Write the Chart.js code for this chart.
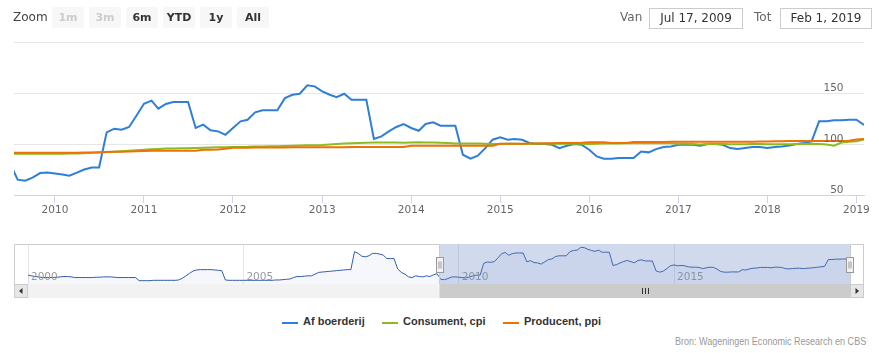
<!DOCTYPE html>
<html><head><meta charset="utf-8">
<script src="https://cdn.jsdelivr.net/npm/chart.js@4.4.1/dist/chart.umd.min.js"></script>
<style>
body{margin:0;background:#fff;width:879px;height:353px;position:relative;overflow:hidden;font-family:"DejaVu Sans",sans-serif;}
canvas{position:absolute;left:0;}
#main{top:0;}
#nav{top:230px;}
.lbl{position:absolute;font:12px "DejaVu Sans";white-space:nowrap;}
.btn{position:absolute;top:7px;height:21px;width:32px;background:#f7f7f7;border-radius:2px;font:bold 11px "DejaVu Sans";color:#333;text-align:center;line-height:21px;}
.btn.dis{color:#cccccc;}
.box{position:absolute;top:8px;height:19px;border:1px solid #cccccc;font:12px "DejaVu Sans";color:#333;text-align:center;line-height:19px;}
.leg{position:absolute;top:315px;font:bold 11px "Liberation Sans",Arial,sans-serif;color:#333;white-space:nowrap;}
.sym{position:absolute;top:322px;width:16px;height:2px;}
#credits{position:absolute;right:13px;top:335px;font:11px "Liberation Sans",sans-serif;color:#999;white-space:nowrap;transform:scaleX(0.82);transform-origin:100% 50%;}
</style></head>
<body>
<canvas id="main" width="879" height="230"></canvas>
<canvas id="nav" width="879" height="75"></canvas>

<div class="lbl" style="left:13px;top:10px;color:#444;">Zoom</div>
<div id="buttons"></div>
<div class="lbl" style="left:620px;top:10px;color:#666;">Van</div>
<div class="box" style="left:649px;width:92px;" id="fromBox"></div>
<div class="lbl" style="left:754px;top:10px;color:#666;">Tot</div>
<div class="box" style="left:780px;width:90px;" id="toBox"></div>
<div id="legend"></div>
<div id="credits">Bron: Wageningen Economic Research en CBS</div>

<script>
// ---------- DATA ----------
const seriesNames = ['Af boerderij', 'Consument, cpi', 'Producent, ppi'];
const seriesColors = ['#2f7ed8', '#8bbc21', '#ee7203'];
const mainStart = [2009, 6];      // first month of visible data (Jul 2009)
const histStart = [2000, 0];      // first month of navigator history (Jan 2000)
const rangeFrom = [2009, 6, 17];  // selected range start (Jul 17, 2009)
const rangeTo = [2019, 1, 1];     // selected range end (Feb 1, 2019)
const yearTicks = [2010, 2011, 2012, 2013, 2014, 2015, 2016, 2017, 2018, 2019];
const navYearTicks = [2000, 2005, 2010, 2015];
const yTicks = [50, 100, 150, 200];
const zoomButtons = ['1m', '3m', '6m', 'YTD', '1y', 'All'];
const disabledButtons = ['1m', '3m'];

// Af boerderij, Jul 2009 - Feb 2019 (monthly)
const afBoerderij = [
  81, 65, 64, 67, 71.5, 72,
  71, 70, 69, 72, 75, 77, 77, 111.4, 115, 114, 116.7, 127.7,
  139.5, 142.5, 134.6, 139.2, 141.2, 141.2, 141.2, 115.7, 119, 113.4, 112.4, 109,
  115.7, 122.2, 123.8, 131, 133, 133, 133, 145, 148.3, 149.3, 157.5, 156.5,
  151.6, 148.3, 146, 149.3, 143.4, 143.4, 143.4, 104.9, 107.5, 112.4, 116.7, 119.6,
  115.7, 113, 119.6, 121.2, 118, 118, 118, 89.5, 85.6, 88.5, 96, 104.2,
  106.5, 104.2, 104.9, 104.2, 101, 100, 100, 99.3, 96, 98.3, 100, 99.3,
  94.4, 87.8, 85.6, 85.6, 86.3, 86.3, 86.3, 92.7, 91.8, 95, 97, 97.6,
  99.3, 99.3, 99.3, 98.3, 100, 100, 99.3, 96, 95, 96, 97, 97,
  96, 97, 97.6, 98.6, 100, 101, 102.5, 122.2, 122.2, 123.2, 123.2, 123.8,
  123.8, 118.6
];
// Consument, cpi, Jul 2009 - Feb 2019
const consumentCpi = [
  90.5, 90.5, 90.5, 90.5, 90.5, 90.5,
  90.5, 90.5, 90.6, 90.8, 91, 91.3, 91.7, 92.1, 92.5, 93, 93.5, 93.9,
  94.3, 94.8, 95.2, 95.5, 95.7, 95.8, 95.8, 96, 96.3, 96.5, 96.7, 96.8,
  97, 97.1, 97.2, 97.5, 97.6, 97.7, 97.8, 98, 98.3, 98.6, 98.7, 98.8,
  99, 99.5, 100, 100.4, 100.8, 101, 101.2, 101.4, 101.5, 101.4, 101.5, 101.3,
  101.4, 101.6, 101.5, 101.4, 101.2, 101, 100.6, 100.5, 100.6, 100.4, 100.2, 100,
  100, 100.2, 100.2, 100.1, 100.3, 100.4, 100.3, 100.3, 100.4, 100.2, 100.3, 100.2,
  100.1, 100.3, 100.4, 100.6, 100.6, 100.7, 100.8, 100.8, 100.7, 100.7, 100.7, 100.8,
  100.3, 100.3, 100, 99.6, 100, 100, 100, 99.8, 99.7, 99.8, 99.9, 100,
  99.8, 99.8, 99.7, 99.7, 99.9, 100, 100.2, 100, 99.5, 98.4, 101.5, 102.3,
  102.6, 104.4
];
// Producent, ppi, Jul 2009 - Feb 2019
const producentPpi = [
  91.3, 91.3, 91.3, 91.3, 91.3, 91.3,
  91.3, 91.3, 91.4, 91.5, 91.6, 91.7, 91.9, 92.1, 92.3, 92.5, 92.7, 92.8,
  93.2, 93.4, 93.4, 93.4, 93.4, 93.5, 93.5, 93.5, 94.4, 94.4, 94.5, 95.4,
  96.4, 96.4, 96.4, 96.5, 96.5, 96.5, 96.6, 96.6, 96.7, 96.7, 96.7, 96.8,
  96.8, 96.8, 96.9, 96.9, 97, 97, 97, 97, 97.1, 97.1, 97.1, 97.1,
  98.3, 98.3, 98.3, 98.3, 98.3, 98.3, 98.3, 98.3, 98.3, 98.3, 98.3, 98.4,
  100.2, 100.3, 100.3, 100.3, 100.4, 100.5, 100.8, 100.8, 100.9, 101, 101, 101.2,
  101.8, 101.6, 101.6, 101, 101, 101, 102, 102, 102, 102, 102, 102.1,
  102.2, 102.2, 102.2, 102.2, 102.2, 102.2, 102.2, 102.2, 102.3, 102.3, 102.3, 102.4,
  102.5, 102.6, 102.8, 102.9, 103, 103, 103, 103, 103, 103, 103, 103.2,
  104.3, 104.9
];
// Af boerderij history for the navigator, Jan 2000 - Jun 2009
const afBoerderijHist = [
  77, 75, 73, 72, 70, 70, 70, 70, 71, 72, 73, 73,
  72, 70, 70, 70, 70, 70, 70, 71, 71, 72, 72, 72,
  71, 70, 70, 70, 70, 70, 70, 61, 61, 61, 61, 62,
  62, 62, 62, 62, 62, 62, 63, 68, 75, 82, 89, 92,
  93, 93, 93, 93, 92, 91, 90, 63, 62, 62, 62, 62,
  62, 62, 62, 62, 62, 62, 62, 62, 62, 63, 63, 64,
  65, 66, 70, 73, 73, 74, 75, 75, 80, 85, 86, 87,
  88, 89, 90, 91, 92, 93, 93, 145, 140, 132, 130, 133,
  140, 140, 138, 135, 125, 125, 125, 95, 85, 80, 72, 70,
  75, 73, 72, 75, 73, 78
];

// ---------- HELPERS ----------
const ms = (y, m, d) => Date.UTC(y, m, d || 1);
const toXY = (start, vals) => vals.map((v, i) => ({x: ms(start[0], start[1] + i, 1), y: v}));
const fromMs = ms(rangeFrom[0], rangeFrom[1], rangeFrom[2]);
const toMs = ms(rangeTo[0], rangeTo[1], rangeTo[2]);
const fmt = (t) => { const d = new Date(t); const mn = ['Jan','Feb','Mar','Apr','May','Jun','Jul','Aug','Sep','Oct','Nov','Dec']; return mn[d.getUTCMonth()] + ' ' + d.getUTCDate() + ', ' + d.getUTCFullYear(); };

// ---------- HTML bits ----------
document.getElementById('fromBox').textContent = fmt(fromMs);
document.getElementById('toBox').textContent = fmt(toMs);
const btnLeft = [52, 89, 126, 163, 200, 237];
zoomButtons.forEach((b, i) => {
  const d = document.createElement('div');
  d.className = 'btn' + (disabledButtons.includes(b) ? ' dis' : '');
  d.style.left = btnLeft[i] + 'px';
  d.textContent = b;
  document.getElementById('buttons').appendChild(d);
});
const legLeft = [282, 382, 503];
seriesNames.forEach((n, i) => {
  const s = document.createElement('div');
  s.className = 'sym'; s.style.left = legLeft[i] + 'px'; s.style.background = seriesColors[i];
  const t = document.createElement('div');
  t.className = 'leg'; t.style.left = (legLeft[i] + 21) + 'px'; t.textContent = n;
  document.getElementById('legend').appendChild(s);
  document.getElementById('legend').appendChild(t);
});

// ---------- MAIN CHART ----------
const yLabelPlugin = {
  id: 'ylabels',
  afterDraw(chart) {
    const s = chart.scales.y, ctx = chart.ctx;
    ctx.save();
    ctx.font = '10.5px "DejaVu Sans"';
    ctx.fillStyle = '#666';
    ctx.textAlign = 'right';
    ctx.textBaseline = 'alphabetic';
    yTicks.slice(0, -1).forEach(v => ctx.fillText(String(v), chart.chartArea.right - 20.5, s.getPixelForValue(v) - 2));
    ctx.restore();
  }
};
const series = [afBoerderij, consumentCpi, producentPpi];
new Chart(document.getElementById('main'), {
  type: 'line',
  data: {
    datasets: series.map((vals, i) => ({
      label: seriesNames[i], data: toXY(mainStart, vals),
      borderColor: seriesColors[i], borderWidth: 2, pointRadius: 0, tension: 0, fill: false, order: 3 - i
    }))
  },
  options: {
    responsive: false, animation: false, events: [],
    layout: {padding: {left: 14, right: 15, top: 42, bottom: 0}},
    plugins: {legend: {display: false}, tooltip: {enabled: false}},
    scales: {
      x: {
        type: 'linear', min: fromMs, max: toMs,
        afterFit: s => { s.height = 35; },
        afterBuildTicks: s => { s.ticks = yearTicks.map(y => ({value: ms(y, 0, 1)})); },
        grid: {drawOnChartArea: false, drawTicks: true, tickLength: 8, color: '#ccd6eb'},
        border: {display: true, color: '#ccd6eb'},
        ticks: {autoSkip: false, maxRotation: 0, padding: 1, color: '#666', font: {family: 'DejaVu Sans', size: 10.5},
          callback: v => String(new Date(v).getUTCFullYear())}
      },
      y: {
        position: 'right', min: yTicks[0], max: yTicks[yTicks.length - 1],
        afterFit: s => { s.width = 0; },
        afterBuildTicks: s => { s.ticks = yTicks.map(v => ({value: v})); },
        ticks: {display: false},
        grid: {color: '#e6e6e6', drawTicks: false},
        border: {display: false}
      }
    }
  },
  plugins: [yLabelPlugin]
});

// ---------- NAVIGATOR ----------
const navData = afBoerderijHist.concat(afBoerderij);
const navMin = Math.min(...navData), navMax = Math.max(...navData), navPad = (navMax - navMin) * 0.1;
const navPlugin = {
  id: 'navextras',
  afterDraw(chart) {
    const ctx = chart.ctx, a = chart.chartArea, xs = chart.scales.x;
    const xL = Math.round(xs.getPixelForValue(fromMs)) + 0.5;
    const xR = Math.round(xs.getPixelForValue(toMs)) + 0.5;
    const btn = 14, sTop = a.bottom, sBot = a.bottom + btn;
    ctx.save();
    // axis labels inside the navigator
    ctx.font = '10.5px "DejaVu Sans"';
    ctx.fillStyle = '#999';
    ctx.textAlign = 'left';
    ctx.textBaseline = 'alphabetic';
    navYearTicks.forEach(y => ctx.fillText(String(y), xs.getPixelForValue(ms(y, 0, 1)) + 3, a.bottom - 4));
    // mask
    ctx.fillStyle = 'rgba(102,133,194,0.3)';
    ctx.fillRect(xL, a.top, xR - xL, a.bottom - a.top);
    // scrollbar track
    ctx.fillStyle = '#f2f2f2';
    ctx.fillRect(a.left, sTop, a.right - a.left, btn);
    // scrollbar bar
    ctx.fillStyle = '#cccccc';
    ctx.fillRect(xL, sTop, xR - xL, btn);
    ctx.strokeStyle = '#333'; ctx.lineWidth = 1;
    const cx = Math.round((xL + xR) / 2) + 0.5;
    [-3, 0, 3].forEach(o => { ctx.beginPath(); ctx.moveTo(cx + o, sTop + 4); ctx.lineTo(cx + o, sBot - 4); ctx.stroke(); });
    // buttons
    [[a.left - btn, -1], [a.right, 1]].forEach(([bx, dir]) => {
      ctx.fillStyle = '#e6e6e6';
      ctx.fillRect(bx, sTop, btn, btn);
      ctx.strokeStyle = '#cccccc';
      ctx.strokeRect(bx + 0.5, sTop + 0.5, btn - 1, btn - 1);
      ctx.fillStyle = '#333';
      const mx = bx + btn / 2, my = sTop + btn / 2;
      ctx.beginPath();
      ctx.moveTo(mx + 2 * dir, my); ctx.lineTo(mx - 1.5 * dir, my - 3); ctx.lineTo(mx - 1.5 * dir, my + 3); ctx.closePath(); ctx.fill();
    });
    // outline
    ctx.strokeStyle = '#cccccc'; ctx.lineWidth = 1;
    ctx.beginPath();
    ctx.moveTo(a.left - btn + 0.5, sBot);
    ctx.lineTo(a.left - btn + 0.5, a.top + 0.5);
    ctx.lineTo(xL, a.top + 0.5);
    ctx.lineTo(xL, a.bottom);
    ctx.moveTo(xR, a.bottom);
    ctx.lineTo(xR, a.top + 0.5);
    ctx.lineTo(a.right + btn - 0.5, a.top + 0.5);
    ctx.lineTo(a.right + btn - 0.5, sBot);
    ctx.stroke();
    // handles
    const hy = Math.round((a.top + a.bottom) / 2 - 7.5) + 0.5;
    [xL, xR - 1].forEach(hx => {
      const l = Math.round(hx - 4) + 0.5;
      ctx.fillStyle = '#f2f2f2'; ctx.strokeStyle = '#999999';
      ctx.fillRect(l, hy, 7, 15); ctx.strokeRect(l, hy, 7, 15);
      ctx.beginPath();
      ctx.moveTo(l + 2.5, hy + 4); ctx.lineTo(l + 2.5, hy + 11);
      ctx.moveTo(l + 4.5, hy + 4); ctx.lineTo(l + 4.5, hy + 11);
      ctx.stroke();
    });
    ctx.restore();
  }
};
new Chart(document.getElementById('nav'), {
  type: 'line',
  data: {datasets: [{data: toXY(histStart, navData), borderColor: '#335cad', borderWidth: 1, pointRadius: 0, tension: 0,
    fill: 'start', backgroundColor: 'rgba(51,92,173,0.05)'}]},
  options: {
    responsive: false, animation: false, events: [],
    layout: {padding: {left: 28, right: 29, top: 14, bottom: 21}},
    plugins: {legend: {display: false}, tooltip: {enabled: false}},
    scales: {
      x: {
        type: 'linear', min: ms(histStart[0], histStart[1], 1), max: toMs,
        afterFit: s => { s.height = 0; },
        afterBuildTicks: s => { s.ticks = navYearTicks.map(y => ({value: ms(y, 0, 1)})); },
        grid: {drawOnChartArea: true, drawTicks: false, color: '#e6e6e6'},
        border: {display: false},
        ticks: {display: false}
      },
      y: {display: false, min: navMin - navPad, max: navMax + navPad}
    }
  },
  plugins: [navPlugin]
});
</script>
</body></html>
